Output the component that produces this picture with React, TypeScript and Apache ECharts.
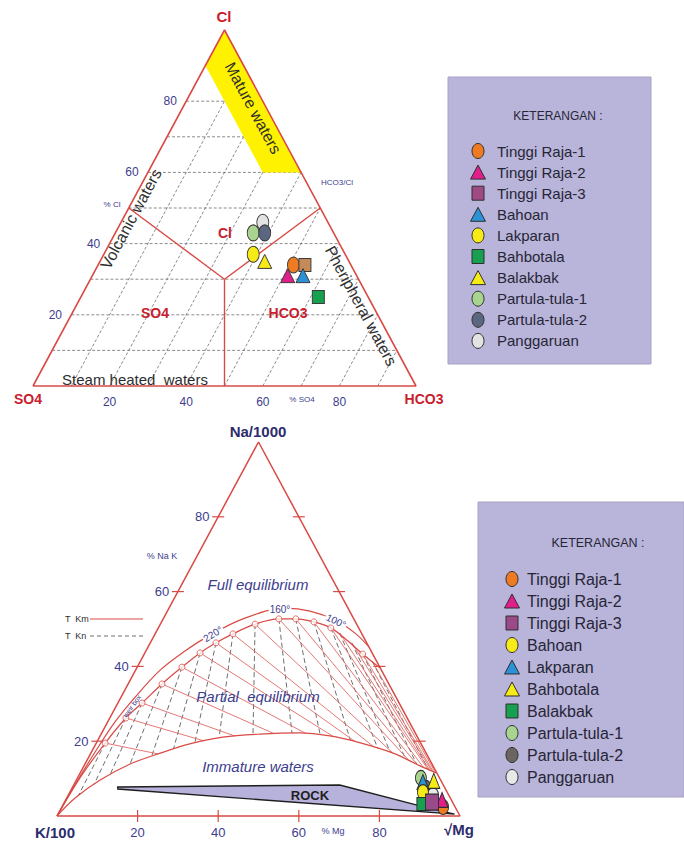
import React, { useEffect, useRef } from "react";
import * as echarts from "echarts";

// ---------------- data ----------------
const SAMPLES = [
  "Tinggi Raja-1", "Tinggi Raja-2", "Tinggi Raja-3", "Bahoan", "Lakparan",
  "Bahbotala", "Balakbak", "Partula-tula-1", "Partula-tula-2", "Panggaruan",
];

// Cl - SO4 - HCO3 diagram (%)
const TOP_CL = [34, 31, 34, 31, 37, 25, 35, 43, 43, 46];
const TOP_SO4 = [15, 18, 12, 14, 24, 13, 22, 21, 18, 17];
const TOP_HCO3 = [51, 51, 54, 55, 39, 62, 43, 36, 39, 37];

const TOP_CL_GRID = [10, 20, 30, 40, 50, 60, 70, 80];
const TOP_HCO3_GRID = [10, 20, 30, 40, 50, 60, 70, 80, 90];
const TOP_TICKS = [20, 40, 60, 80];
// region boundaries [Cl, SO4, HCO3]
const TOP_CENTER = [30, 35, 35];
const TOP_BOUND_ENDS = [[50, 50, 0], [50, 0, 50], [0, 50, 50]];
const MATURE_ZONE = [[90, 10, 0], [100, 0, 0], [60, 0, 40], [60, 10, 30]];

// Na/1000 - K/100 - sqrt(Mg) diagram (%)
const BOT_NA = [2.4, 4.3, 3.7, 6.4, 9.1, 9.4, 3.2, 10.2, 7.5, 5.6];
const BOT_K = [3.0, 2.3, 5.1, 6.0, 4.65, 1.8, 7.6, 4.6, 4.7, 3.9];
const BOT_MG = [94.6, 93.4, 91.2, 87.6, 86.25, 88.8, 89.2, 85.2, 87.8, 90.5];
const BOT_TICKS = [20, 40, 60, 80];

// full equilibrium line (Na, Mg)
const FE_NA = [0, 10.2, 19.5, 26.2, 30.2, 35.3, 39.8, 43.6, 46.3, 48.7, 51.3, 52.7, 52.7, 51.9, 50.3, 46.8, 43.3, 39.6];
const FE_MG = [0, 0.6, 2.2, 4.0, 6.0, 8.4, 11.1, 13.7, 16.3, 19.3, 23.5, 28.7, 32.9, 37.8, 42.8, 48.8, 54.2, 60.3];
// temperature marks on it
const T_NA = [19.5, 26.2, 30.2, 35.3, 39.8, 43.6, 46.3, 48.7, 51.3, 52.7, 52.7, 51.9, 50.3, 43.3];
const T_MG = [2.2, 4.0, 6.0, 8.4, 11.1, 13.7, 16.3, 19.3, 23.5, 28.7, 32.9, 37.8, 42.8, 54.2];
const T_DEG = [340, 320, 300, 280, 260, 240, 220, 200, 180, 160, 140, 120, 100, 80];
// further isotherm anchors on the line (no mark)
const ISO_NA = [48.9, 46.3, 41.4];
const ISO_MG = [45.7, 50.0, 57.5];
// outer curve
const OUT_NA = [0, 8.3, 17.1, 25.1, 31.8, 39.0, 44.1, 47.9, 52.7, 55.6, 54.8, 52.4, 48.9, 45.2];
const OUT_MG = [0, 0.3, 0.9, 1.8, 3.5, 6.1, 9.7, 13.3, 19.8, 28.8, 35.4, 42.8, 49.5, 54.8];
// immature waters boundary
const IMM_NA = [0, 4.8, 9.6, 13.9, 16.8, 19.3, 21.1, 21.9, 22.2, 21.4, 19.8, 16.8, 13.4, 11.5];
const IMM_MG = [0, 2.1, 5.9, 11.2, 17.2, 23.3, 30.6, 39.4, 49.2, 57.0, 64.5, 75.0, 83.4, 88.4];
// rock dissolution wedge
const ROCK_NA = [7.75, 8.3, 2.9, 0.5, 7.2];
const ROCK_MG = [11.2, 66.0, 87.9, 98.4, 11.5];

// ---------------- styles ----------------
const FONT = "'Liberation Sans', Arial, Helvetica, sans-serif";
const RED = "#c8202f";
const REDLINE = "#d94a45";
const NAVY = "#3d3d8e";
const DARK = "#2e2e2e";
const LEG_BG = "#b9b4da";
const ELLIPSE = "path://M0,-10A10,10 0 1,1 0,10A10,10 0 1,1 0,-10Z";

type Mk = { s: string; c: string };
const TOP_MARK: Mk[] = [
  { s: "circle", c: "#ee7b22" }, { s: "triangle", c: "#e01f8b" }, { s: "rect", c: "#c48a5a" },
  { s: "triangle", c: "#2b92d6" }, { s: "circle", c: "#f6ea17" }, { s: "rect", c: "#17a04f" },
  { s: "triangle", c: "#f6ea17" }, { s: "circle", c: "#a9d48f" }, { s: "circle", c: "#5b6680" },
  { s: "circle", c: "#e3e3e3" },
];
const TOP_LEG_MARK: Mk[] = TOP_MARK.map((m, i) => (i === 2 ? { s: "rect", c: "#a04a84" } : m));
const BOT_MARK: Mk[] = [
  { s: "circle", c: "#ee7b22" }, { s: "triangle", c: "#e01f8b" }, { s: "rect", c: "#9a4a88" },
  { s: "circle", c: "#f6ea17" }, { s: "triangle", c: "#2b92d6" }, { s: "triangle", c: "#f6ea17" },
  { s: "rect", c: "#17a04f" }, { s: "circle", c: "#a9d48f" }, { s: "circle", c: "#6a6560" },
  { s: "circle", c: "#e8e8e8" },
];
const TOP_ORDER = [9, 7, 8, 4, 6, 0, 2, 1, 3, 5];
const BOT_ORDER = [7, 8, 9, 4, 5, 3, 6, 0, 1, 2];

const TOP = { left: 33, top: 30, width: 383, height: 356 };
const BOT = { left: 57, top: 442, width: 403, height: 374 };

// ternary -> cartesian (0..100)
const tc = (cl: number, hco3: number) => [hco3 + cl / 2, cl];
const bc = (na: number, mg: number) => [mg + na / 2, na];
const toPx = (g: any, p: number[]) => [g.left + (p[0] / 100) * g.width, g.top + (1 - p[1] / 100) * g.height];

function rayHit(p: number[], d: number[], poly: number[][]) {
  let best: any = null;
  for (let i = 0; i < poly.length - 1; i++) {
    const a = poly[i], b = poly[i + 1];
    const ex = b[0] - a[0], ey = b[1] - a[1];
    const den = d[0] * ey - d[1] * ex;
    if (Math.abs(den) < 1e-9) continue;
    const wx = a[0] - p[0], wy = a[1] - p[1];
    const t = (wx * ey - wy * ex) / den;
    const u = (wx * d[1] - wy * d[0]) / den;
    if (t > 1e-6 && u >= 0 && u <= 1 && (!best || t < best.t)) best = { t, pt: [p[0] + t * d[0], p[1] + t * d[1]] };
  }
  return best ? best.pt : poly[poly.length - 1];
}

function buildOption() {
  const series: any[] = [];
  const addLine = (g: number, pts: number[][], style: any, z = 2, smooth: any = false) =>
    series.push({ type: "line", xAxisIndex: g, yAxisIndex: g, data: pts, showSymbol: false, symbol: "none", smooth, lineStyle: style, silent: true, z, clip: false, animation: false });
  const addPoly = (g: number, pts: number[][], style: any, z: number) =>
    series.push({
      type: "custom", xAxisIndex: g, yAxisIndex: g, data: [[0, 0]], z, silent: true, clip: false,
      renderItem: (_p: any, api: any) => ({ type: "polygon", shape: { points: pts.map((q) => api.coord(q)) }, style }),
    });
  const symbolOf = (s: string) => (s === "circle" ? ELLIPSE : s);
  const sizeOf = (s: string, big = true) => (s === "circle" ? (big ? [12, 16] : [11, 15]) : s === "triangle" ? (big ? [14, 14] : [12, 15]) : (big ? [12, 13] : [12, 13]));

  // ---- top diagram ----
  const dashTop = { color: "#5a5a5a", width: 0.7, type: [3, 2] };
  TOP_CL_GRID.forEach((c) => addLine(0, [tc(c, 0), tc(c, 100 - c)], dashTop, 1));
  TOP_HCO3_GRID.forEach((h) => addLine(0, [tc(0, h), tc(100 - h, h)], dashTop, 1));
  addPoly(0, MATURE_ZONE.map((m) => tc(m[0], m[2])), { fill: "#fff200", stroke: "none" }, 2);
  const redTop = { color: REDLINE, width: 1.4 };
  const cen = tc(TOP_CENTER[0], TOP_CENTER[2]);
  TOP_BOUND_ENDS.forEach((e) => addLine(0, [cen, tc(e[0], e[2])], redTop, 3));
  addLine(0, [tc(0, 0), tc(0, 100), tc(100, 0), tc(0, 0)], { color: REDLINE, width: 1.6 }, 3);
  TOP_ORDER.forEach((i) => {
    const m = TOP_MARK[i];
    series.push({
      type: "scatter", name: SAMPLES[i], xAxisIndex: 0, yAxisIndex: 0, z: 6, silent: true,
      data: [tc(TOP_CL[i], TOP_HCO3[i])], symbol: symbolOf(m.s), symbolSize: sizeOf(m.s),
      itemStyle: { color: m.c, borderColor: "#3a3a3a", borderWidth: 1, opacity: 1 },
    });
  });

  // ---- bottom diagram ----
  const fe = FE_NA.map((n, i) => bc(n, FE_MG[i]));
  const out = OUT_NA.map((n, i) => bc(n, OUT_MG[i]));
  const imm = IMM_NA.map((n, i) => bc(n, IMM_MG[i]));
  const marks = T_NA.map((n, i) => bc(n, T_MG[i]));
  const anchors = marks.concat(ISO_NA.map((n, i) => bc(n, ISO_MG[i])));
  const apex = [50, 100], mgCorner = [100, 0];
  anchors.forEach((p) => {
    const end = rayHit(p, [p[0] - apex[0], p[1] - apex[1]], imm);
    addLine(1, [p, end], { color: "#6f6f6f", width: 1, type: [5, 3] }, 1);
  });
  anchors.forEach((p) => {
    const end = rayHit(p, [mgCorner[0] - p[0], mgCorner[1] - p[1]], imm);
    addLine(1, [p, end], { color: "#e06a66", width: 0.9 }, 2);
  });
  addPoly(1, ROCK_NA.map((n, i) => bc(n, ROCK_MG[i])), { fill: "#b7b2dc", stroke: "#1e1e1e", lineWidth: 1.4 }, 3);
  addLine(1, out, { color: REDLINE, width: 1.2 }, 3, 0.35);
  addLine(1, fe, { color: REDLINE, width: 1.2 }, 3, 0.35);
  addLine(1, imm, { color: REDLINE, width: 1.2 }, 3, 0.35);
  addLine(1, [bc(0, 0), bc(0, 100), bc(100, 0), bc(0, 0)], { color: REDLINE, width: 1.5 }, 3);
  series.push({
    type: "scatter", xAxisIndex: 1, yAxisIndex: 1, z: 4, silent: true, data: marks,
    symbol: "circle", symbolSize: 6, itemStyle: { color: "#fff", borderColor: REDLINE, borderWidth: 1 },
  });
  BOT_ORDER.forEach((i) => {
    const m = BOT_MARK[i];
    series.push({
      type: "scatter", name: SAMPLES[i] + " ", xAxisIndex: 1, yAxisIndex: 1, z: 6, silent: true,
      data: [bc(BOT_NA[i], BOT_MG[i])], symbol: symbolOf(m.s), symbolSize: i === 2 ? [13, 16] : sizeOf(m.s, false),
      itemStyle: { color: m.c, borderColor: "#2f2f2f", borderWidth: 1, opacity: 1 },
    });
  });

  // ---- graphics: labels, ticks, legends ----
  const g: any[] = [];
  const txt = (x: number, y: number, text: string, size: number, fill: string, o: any = {}) =>
    g.push({
      type: "text", x, y, rotation: o.rot || 0, z: 20, silent: true,
      style: {
        text, fontSize: size, fill, fontFamily: FONT, fontWeight: o.bold ? "bold" : "normal",
        fontStyle: o.italic ? "italic" : "normal", align: o.align || "center", verticalAlign: "middle",
        backgroundColor: o.bg, padding: o.bg ? [0, 1] : 0,
      },
    });
  const ln = (x1: number, y1: number, x2: number, y2: number, stroke: string, w = 1, dash?: number[]) =>
    g.push({ type: "line", z: 20, silent: true, shape: { x1, y1, x2, y2 }, style: { stroke, lineWidth: w, lineDash: dash } });

  const A = Math.atan2(TOP.height, TOP.width / 2);
  txt(224, 16, "Cl", 15, RED, { bold: true });
  txt(28, 399, "SO4", 14, RED, { bold: true });
  txt(424, 399, "HCO3", 14, RED, { bold: true });
  TOP_TICKS.forEach((t) => {
    const l = toPx(TOP, tc(t, 0));
    txt(l[0] - 16, l[1], String(t), 12, NAVY);
    const b = toPx(TOP, tc(0, t));
    txt(b[0], b[1] + 16, String(t), 12, NAVY);
  });
  txt(302, 399, "% SO4", 8, NAVY);
  txt(112, 204, "% Cl", 8, NAVY);
  txt(337, 182, "HCO3/Cl", 8, NAVY);
  txt(225, 233, "Cl", 14, RED, { bold: true });
  txt(155, 313, "SO4", 14, RED, { bold: true });
  txt(288, 313, "HCO3", 14, RED, { bold: true });
  txt(131, 219, "Volcanic waters", 16, DARK, { rot: A });
  txt(253, 108, "Mature waters", 16, DARK, { rot: -A });
  txt(361, 306, "Pheripheral waters", 16, DARK, { rot: -A });
  txt(135, 379, "Steam heated  waters", 15, DARK);

  txt(258, 431, "Na/1000", 15, "#2c2c6e", { bold: true });
  txt(55, 832, "K/100", 15, "#2c2c6e", { bold: true });
  txt(459, 829, "√Mg", 15, "#2c2c6e", { bold: true });
  BOT_TICKS.forEach((t) => {
    const l = toPx(BOT, bc(t, 0));
    txt(l[0] - 16, l[1], String(t), 13, NAVY);
    ln(l[0] - 6, l[1], l[0] + 6, l[1], REDLINE, 1.2);
    const r = toPx(BOT, bc(t, 100 - t));
    ln(r[0] - 6, r[1], r[0] + 6, r[1], REDLINE, 1.2);
    const b = toPx(BOT, bc(0, t));
    txt(b[0], b[1] + 16, String(t), 13, NAVY);
    ln(b[0], b[1] - 6, b[0], b[1] + 6, REDLINE, 1.2);
  });
  txt(162, 556, "% Na K", 9, NAVY);
  txt(333, 831, "% Mg", 9, NAVY);
  txt(258, 584, "Full equilibrium", 15, NAVY, { italic: true });
  txt(258, 696, "Partial  equilibrium", 15, NAVY, { italic: true });
  txt(258, 766, "Immature waters", 15, NAVY, { italic: true });
  txt(310, 795, "ROCK", 13, "#1e1e1e", { bold: true });
  const labelT = [220, 160, 100];
  const labelPos = [[213, 634, 0.55], [280, 609, 0], [336, 621, -0.45]];
  labelT.forEach((t, k) => {
    if (T_DEG.indexOf(t) >= 0) txt(labelPos[k][0], labelPos[k][1], t + "°", 10, NAVY, { rot: labelPos[k][2], bg: "#fff" });
  });
  txt(132, 706, "weir box", 7, NAVY, { rot: 0.95 });
  txt(65, 619, "T  Km", 9, DARK, { align: "left" });
  ln(90, 619, 143, 619, REDLINE, 1);
  txt(65, 636, "T  Kn", 9, DARK, { align: "left" });
  ln(90, 636, 143, 636, "#6f6f6f", 1, [4, 3]);

  const legend = (bx: number, by: number, bw: number, bh: number, tx: number, ty: number, tsize: number,
    mx: number, y0: number, step: number, lx: number, fs: number, mk: Mk[]) => {
    g.push({ type: "rect", z: 15, silent: true, shape: { x: bx, y: by, width: bw, height: bh }, style: { fill: LEG_BG, stroke: "#a6a3c4", lineWidth: 1 } });
    txt(tx, ty, "KETERANGAN :", tsize, "#262636");
    SAMPLES.forEach((name, i) => {
      const y = y0 + i * step, m = mk[i];
      const st = { fill: m.c, stroke: "#2f2f2f", lineWidth: 1 };
      if (m.s === "circle") g.push({ type: "ellipse", z: 21, silent: true, shape: { cx: mx, cy: y, rx: 6, ry: 7.5 }, style: st });
      else if (m.s === "triangle") g.push({ type: "polygon", z: 21, silent: true, shape: { points: [[mx, y - 7], [mx + 7.5, y + 7], [mx - 7.5, y + 7]] }, style: st });
      else g.push({ type: "rect", z: 21, silent: true, shape: { x: mx - 6, y: y - 7, width: 12, height: 14 }, style: st });
      txt(lx, y, name, fs, "#262636", { align: "left" });
    });
  };
  legend(448, 77, 203, 287, 558, 116, 12, 478, 151, 21.1, 497, 15, TOP_LEG_MARK);
  legend(478, 502, 206, 295, 598, 543, 12.5, 512, 579, 22, 527, 16, BOT_MARK);

  const axis = (gi: number) => ({ type: "value", gridIndex: gi, min: 0, max: 100, show: false });
  return {
    animation: false,
    backgroundColor: "#ffffff",
    grid: [
      { left: TOP.left, top: TOP.top, width: TOP.width, height: TOP.height },
      { left: BOT.left, top: BOT.top, width: BOT.width, height: BOT.height },
    ],
    xAxis: [axis(0), axis(1)],
    yAxis: [axis(0), axis(1)],
    series,
    graphic: g,
  };
}

export default function App() {
  const ref = useRef<HTMLDivElement>(null);
  useEffect(() => {
    if (!ref.current) return;
    const chart = echarts.init(ref.current, undefined, { renderer: "svg" });
    chart.setOption(buildOption() as any);
    return () => chart.dispose();
  }, []);
  return <div ref={ref} style={{ position: "absolute", left: 0, top: 0, width: 684, height: 843, background: "#fff" }} />;
}
